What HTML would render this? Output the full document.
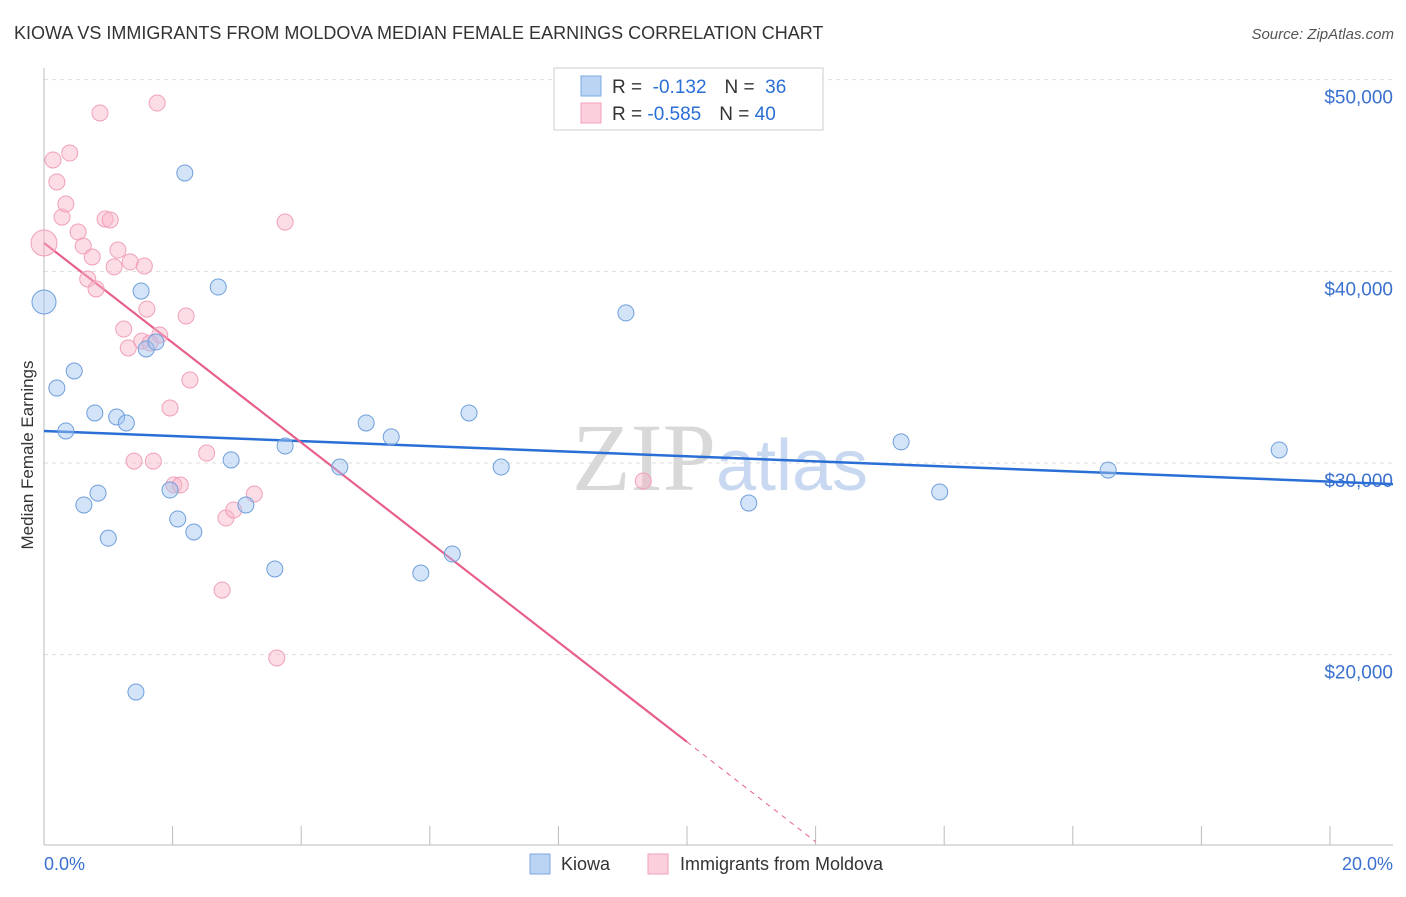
<!DOCTYPE html>
<html><head><meta charset="utf-8"><style>
body{margin:0;background:#fff;font-family:"Liberation Sans",sans-serif;}
</style></head><body>
<svg width="1406" height="892" viewBox="0 0 1406 892" xmlns="http://www.w3.org/2000/svg" font-family="Liberation Sans, sans-serif">
<text x="14" y="39" font-size="18" fill="#333">KIOWA VS IMMIGRANTS FROM MOLDOVA MEDIAN FEMALE EARNINGS CORRELATION CHART</text>
<text x="1394" y="39" font-size="15" fill="#555" font-style="italic" text-anchor="end">Source: ZipAtlas.com</text>
<text x="33" y="455" font-size="17" fill="#333" text-anchor="middle" transform="rotate(-90 33 455)">Median Female Earnings</text>
<g id="grid"></g>
<text x="720" y="490" font-size="96" fill="#d8d8d8" text-anchor="middle" font-family="Liberation Serif, serif">ZIP<tspan fill="#c8d8f0" font-family="Liberation Sans, sans-serif" font-size="72">atlas</tspan></text>
<line x1="44" y1="68" x2="44" y2="845" stroke="#bbb"/>
<line x1="44" y1="845" x2="1393" y2="845" stroke="#bbb"/>
<g id="ticks"></g>
<g id="lines"></g>
<g id="pts"></g>
<text x="44" y="870" font-size="18" fill="#3a70d0">0.0%</text>
<text x="1393" y="870" font-size="18" fill="#3a70d0" text-anchor="end">20.0%</text>
<g>
<rect x="554" y="68" width="269" height="62" fill="#fff" stroke="#ccc"/>
<rect x="581" y="76" width="20" height="20" fill="#bcd4f4" stroke="#7aa8e0"/>
<rect x="581" y="103" width="20" height="20" fill="#fbd0dc" stroke="#f0a0b8"/>
<text x="612" y="93" font-size="19" fill="#333">R = <tspan fill="#2a6fd6">&#160;-0.132</tspan><tspan dx="18">N = </tspan><tspan fill="#2a6fd6">&#160;36</tspan></text>
<text x="612" y="120" font-size="19" fill="#333">R = <tspan fill="#2a6fd6">-0.585</tspan><tspan dx="18">N = </tspan><tspan fill="#2a6fd6">40</tspan></text>
</g>
<g>
<rect x="530" y="854" width="20" height="20" fill="#bcd4f4" stroke="#7aa8e0"/>
<text x="561" y="870" font-size="18" fill="#333">Kiowa</text>
<rect x="648" y="854" width="20" height="20" fill="#fbd0dc" stroke="#f0a0b8"/>
<text x="680" y="870" font-size="18" fill="#333">Immigrants from Moldova</text>
</g>
</svg>
<script>
const yTicks=[20000,30000,40000,50000];
const yTickLabels=["$20,000","$30,000","$40,000","$50,000"];
const xTicks=[0,2,4,6,8,10,12,14,16,18,20];
const kiowaX=[0,0.2,0.34,0.47,0.62,0.79,0.84,1.0,1.13,1.28,1.43,1.51,1.59,1.74,1.96,2.08,2.19,2.33,2.71,2.91,3.14,3.59,3.75,4.6,5.01,5.4,5.86,6.35,6.61,7.11,9.05,10.96,13.33,13.93,16.55,19.21];
const kiowaY=[38400,33910,31670,34800,27810,32610,28430,26080,32400,32090,18050,38970,35950,36310,28590,27080,45130,26400,39180,30160,27810,24470,30890,29790,32090,31360,24260,25250,32610,29790,37830,27910,31100,28490,29630,30680];
const moldX=[0,0.14,0.2,0.28,0.34,0.40,0.53,0.61,0.68,0.75,0.81,0.87,0.95,1.03,1.09,1.15,1.24,1.31,1.34,1.40,1.56,1.60,1.52,1.70,1.76,1.80,1.96,2.02,2.12,2.21,2.27,2.53,2.77,2.83,2.95,3.27,3.62,3.75,9.32,1.65];
const moldY=[41480,45810,44660,42830,43510,46170,42050,41320,39600,40750,39080,48260,42730,42680,40230,41110,36990,36000,40490,30100,40280,38030,36360,30100,48780,36680,32870,28850,28850,37670,34330,30520,23370,27130,27550,28380,19830,42570,29060,36260];
const kiowaTrend=[31670,28900]; // at x=0 and x=20.98
const moldTrend=[41480,15450]; // at x=0 and x=10
const NS="http://www.w3.org/2000/svg";
const sx=v=>44+v*64.3, sy=v=>463-(v-30000)/52.17;
function mk(t,a,p){const e=document.createElementNS(NS,t);for(const k in a)e.setAttribute(k,a[k]);p.appendChild(e);return e;}
const grid=document.getElementById('grid');
yTicks.forEach((v,i)=>{
 const l=mk('line',{x1:44,x2:1393,y1:sy(v),y2:sy(v),stroke:'#ddd','stroke-dasharray':'4,4'},grid);
 
 
 const t=mk('text',{x:1393,y:sy(v)+24,'font-size':19,fill:'#3a70d0','text-anchor':'end'},grid);
 t.textContent=yTickLabels[i];
 
 
});
const tk=document.getElementById('ticks');
xTicks.forEach(v=>{const l=mk('line',{x1:sx(v),x2:sx(v),y1:826,y2:845,stroke:'#bbb'},tk);
 
 });
const ln=document.getElementById('lines');
const b=mk('line',{x1:sx(0),y1:sy(kiowaTrend[0]),x2:sx(20.98),y2:sy(kiowaTrend[1]),stroke:'#2a6fd6','stroke-width':2.5},ln);


const slope=(moldTrend[1]-moldTrend[0])/10;
const p=mk('line',{x1:sx(0),y1:sy(moldTrend[0]),x2:sx(10),y2:sy(moldTrend[1]),stroke:'#e8608a','stroke-width':2.2},ln);


const pd=mk('line',{x1:sx(10),y1:sy(moldTrend[1]),x2:sx(12),y2:sy(moldTrend[0]+slope*12),stroke:'#e8608a','stroke-width':1,'stroke-dasharray':'5,5'},ln);


const pts=document.getElementById('pts');
moldX.forEach((x,i)=>{const c=mk('circle',{cx:sx(x),cy:sy(moldY[i]),r:i==0?13:8,fill:'rgba(248,180,200,0.45)',stroke:'#f0a0b8','stroke-width':1},pts);
 
 });
kiowaX.forEach((x,i)=>{const c=mk('circle',{cx:sx(x),cy:sy(kiowaY[i]),r:i==0?12:8,fill:'rgba(160,196,240,0.45)',stroke:'#6e9fdc','stroke-width':1},pts);
 
 });
</script>
</body></html>
